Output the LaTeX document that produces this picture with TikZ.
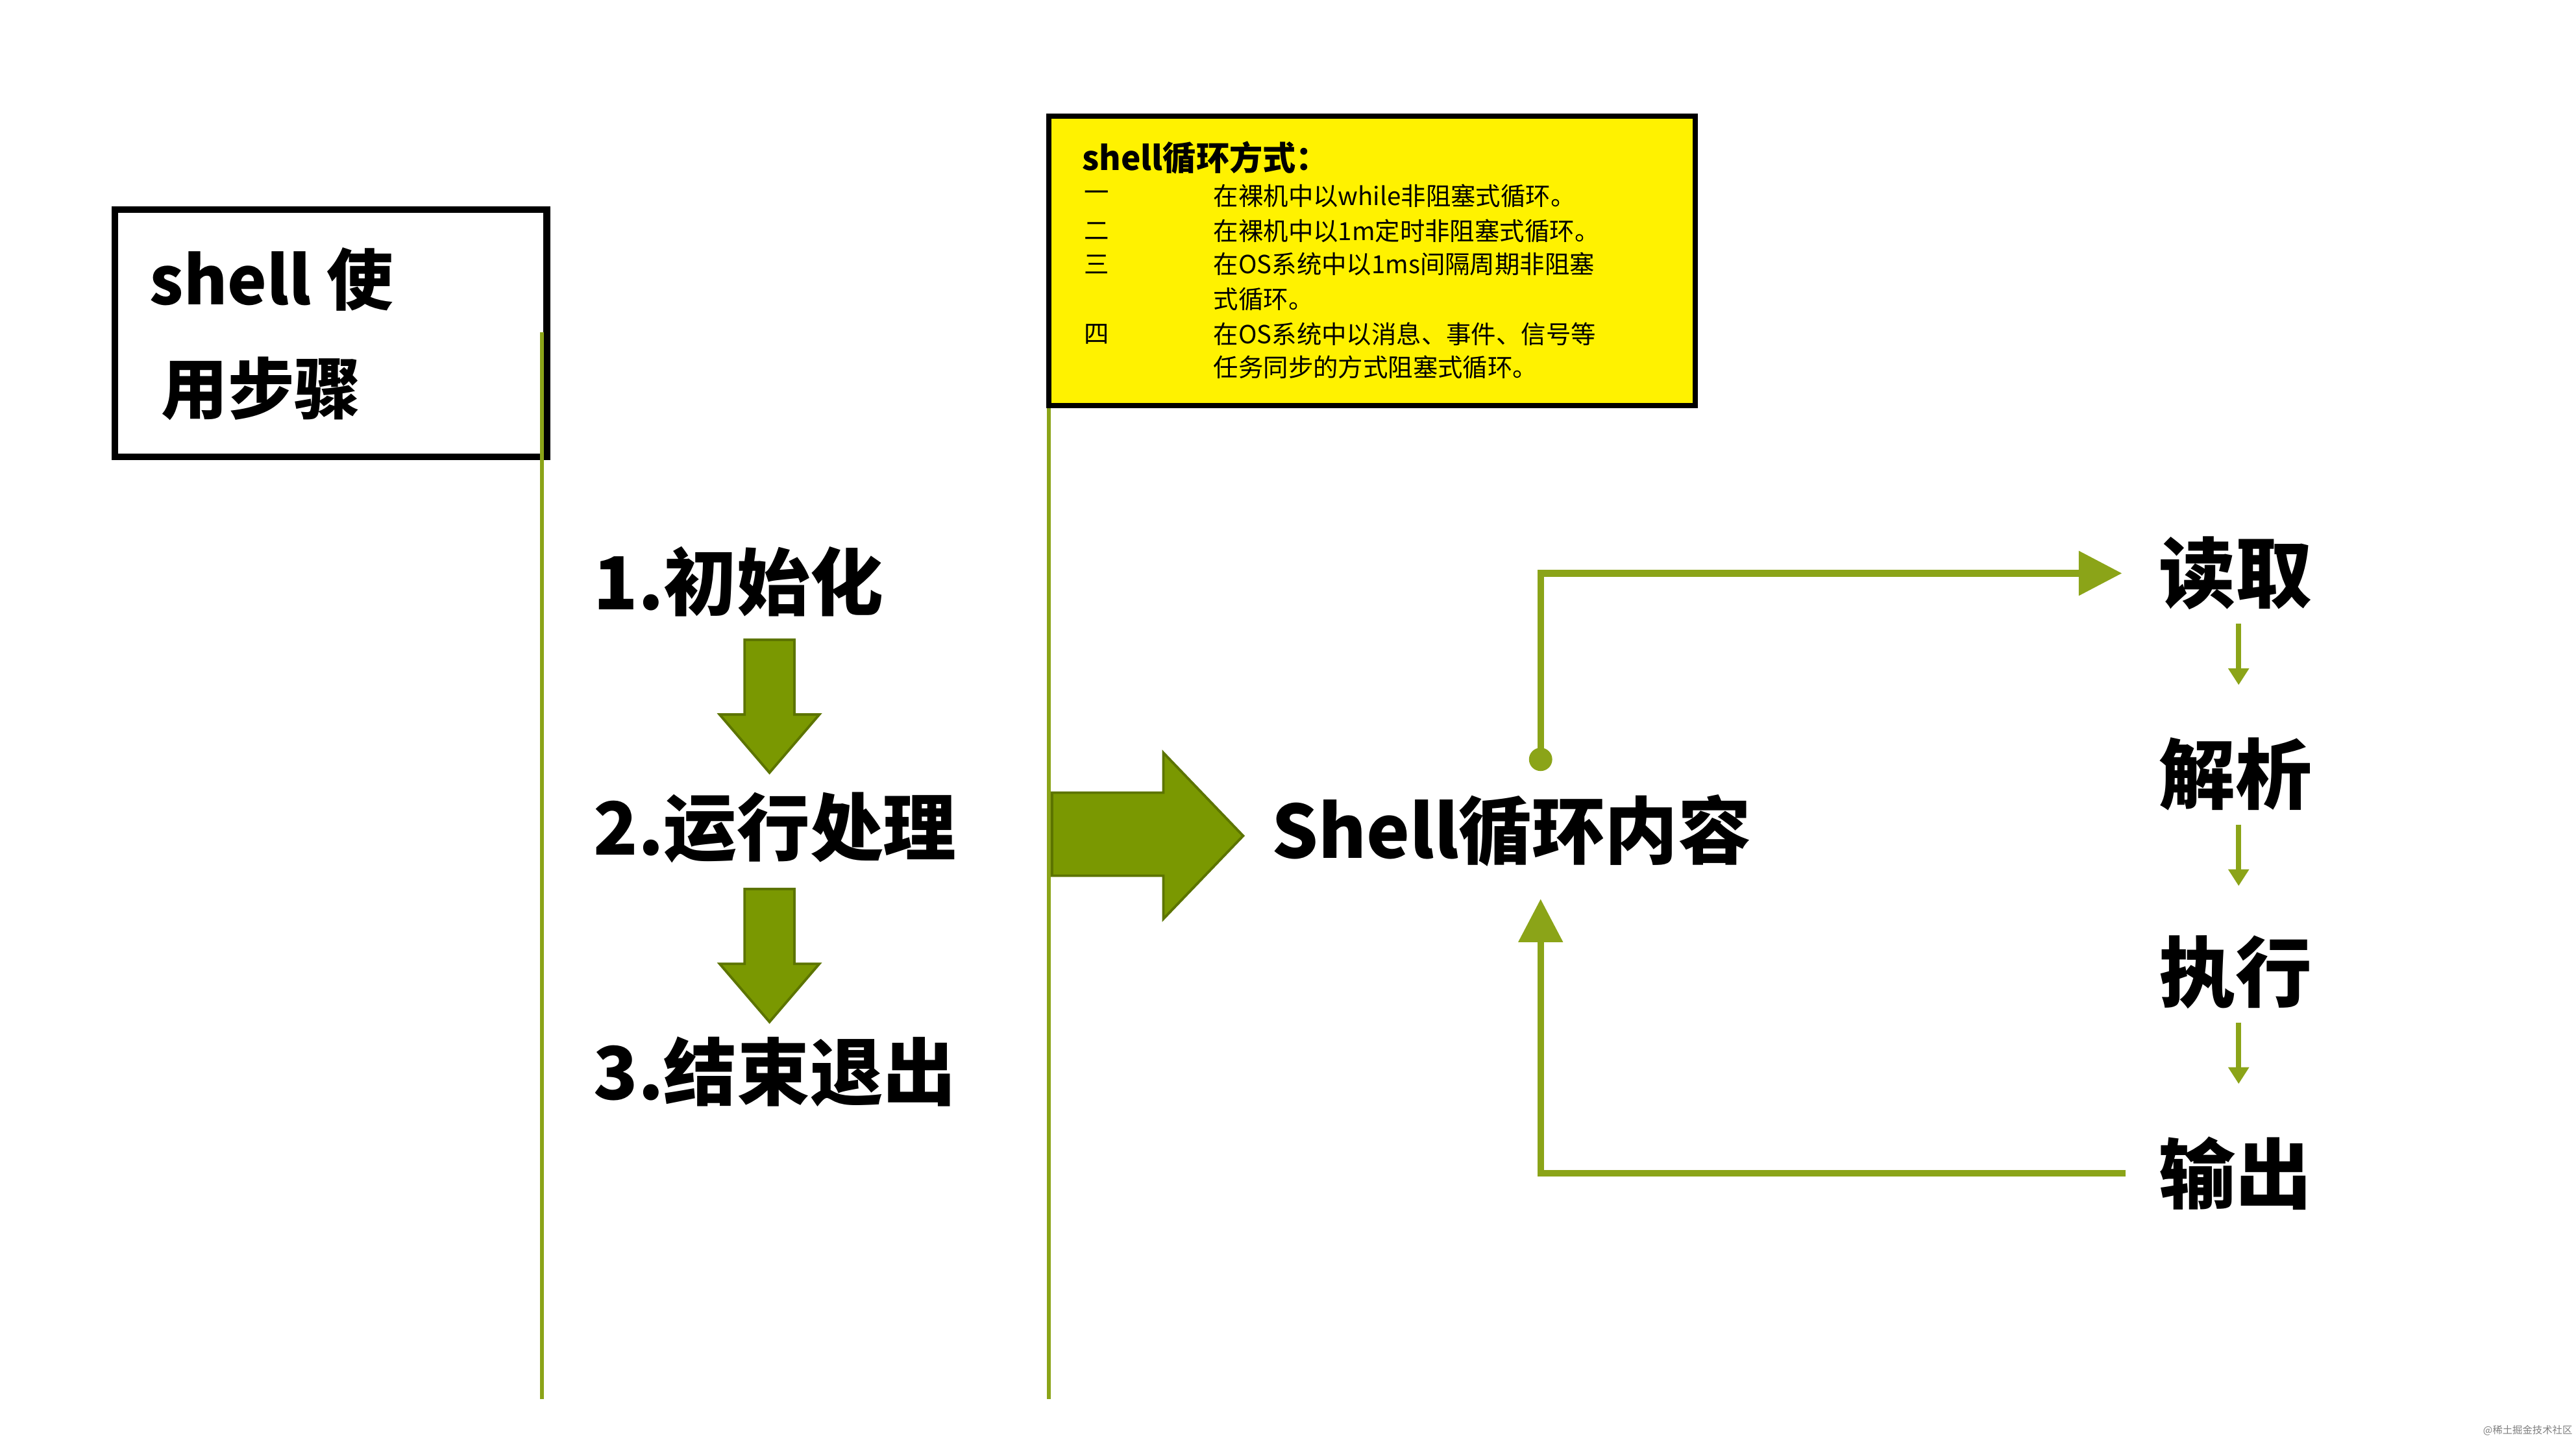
\documentclass[tikz,border=0pt]{standalone}
\usepackage{fontspec}
\newfontfamily\cjk{Noto Sans CJK SC}
\usetikzlibrary{arrows.meta}
\definecolor{olive}{RGB}{139,164,24}
\definecolor{arrowfill}{RGB}{122,152,1}
\definecolor{arrowline}{RGB}{92,116,0}
\definecolor{noteyellow}{RGB}{255,242,0}
\tikzset{
  big/.style={anchor=west,inner sep=0pt,font=\cjk\bfseries\fontsize{44}{48}\selectfont},
  side/.style={inner sep=0pt,font=\cjk\bfseries\fontsize{46}{50}\selectfont},
  small/.style={anchor=west,inner sep=0pt,font=\cjk\fontsize{15}{17}\selectfont},
  guide/.style={olive,line width=2.5pt},
  blockarrow/.style={fill=arrowfill,draw=arrowline,line width=1.5pt,line join=miter},
  loopline/.style={olive,line width=4pt},
  smallarrow/.style={olive,line width=3pt,-{Triangle[length=10pt,width=12pt]}}
}
\begin{document}
\begin{tikzpicture}[x=1pt,y=-1pt]
    \useasboundingbox[fill=white] (0,0) rectangle (1550,873);
    % title box
    \draw[line width=4pt] (69,126) rectangle (329,275);
    \node[anchor=west,inner sep=0pt,font=\cjk\bfseries\fontsize{40}{44}\selectfont] (title1) at (90,168) {shell 使};
    \node[anchor=west,inner sep=0pt,font=\cjk\bfseries\fontsize{40}{44}\selectfont] (title2) at (97,234) {用步骤};
    % guide lines
    \draw[guide] (326,200) -- (326,842);
    \draw[guide] (631,155) -- (631,842);
    % note box
    \draw[fill=noteyellow,line width=3pt] (631,70) rectangle (1020,244);
    \node[anchor=west,inner sep=0pt,font=\cjk\bfseries\fontsize{20}{22}\selectfont] (notetitle) at (651,95) {shell循环方式：};
    \node[small] (n1) at (652,118) {一};
    \node[small] (t1) at (730,118) {在裸机中以while非阻塞式循环。};
    \node[small] (n2) at (652,139) {二};
    \node[small] (t2) at (730,139) {在裸机中以1m定时非阻塞式循环。};
    \node[small] (n3) at (652,159) {三};
    \node[small] (t3) at (730,159) {在OS系统中以1ms间隔周期非阻塞};
    \node[small] (t3b) at (730,180) {式循环。};
    \node[small] (n4) at (652,201) {四};
    \node[small] (t4) at (730,201) {在OS系统中以消息、事件、信号等};
    \node[small] (t4b) at (730,221) {任务同步的方式阻塞式循环。};
    % steps
    \node[big] (init) at (357,350) {1.初始化};
    \node[big] (run) at (357,498) {2.运行处理};
    \node[big] (quit) at (357,645) {3.结束退出};
    \foreach \y in {385,535}
      \draw[blockarrow] (448,\y) -- (478,\y) -- (478,\y+45) -- (493,\y+45) -- (463,\y+80)
        -- (433,\y+45) -- (448,\y+45) -- cycle;
    \draw[blockarrow] (633,477) -- (700,477) -- (700,453) -- (748,503) -- (700,553)
      -- (700,527) -- (633,527) -- cycle;
    \node[big] (loop) at (765,500) {Shell循环内容};
    % loop column
    \node[side] (read) at (1345,345) {读取};
    \node[side] (parse) at (1345,466) {解析};
    \node[side] (exec) at (1345,585) {执行};
    \node[side] (out) at (1345,706) {输出};
    \draw[smallarrow] (read.south) ++(2,8) -- ++(0,37);
    \draw[smallarrow] (parse.south) ++(2,8) -- ++(0,37);
    \draw[smallarrow] (exec.south) ++(2,8) -- ++(0,37);
    \coordinate (dot) at (927,457);
    \fill[olive] (dot) circle (7);
    \draw[loopline,-{Triangle[length=26pt,width=26pt]}] (dot) |- ([xshift=-22pt]read.west);
    \draw[loopline,-{Triangle[length=26pt,width=26pt]}] ([xshift=-20pt]out.west) -| (927,541);
    \node[anchor=south east,inner sep=2pt,font=\cjk\fontsize{6}{7}\selectfont,gray] (mark) at (1550,866) {@稀土掘金技术社区};
\end{tikzpicture}
\end{document}
